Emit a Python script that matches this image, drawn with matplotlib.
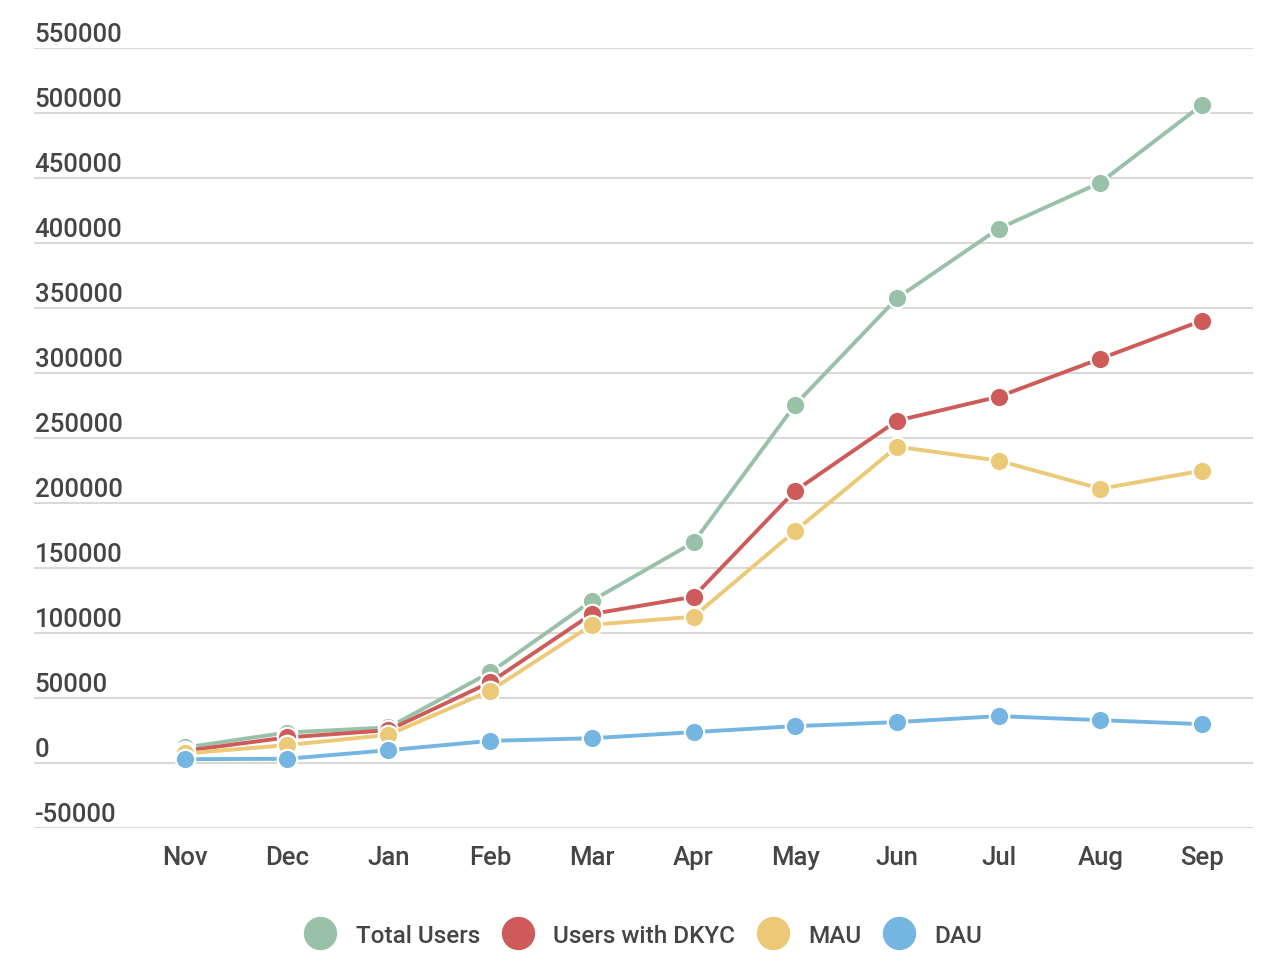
import matplotlib.pyplot as plt
from matplotlib import transforms

plt.rcParams['font.family'] = ['Roboto', 'DejaVu Sans']

months = ["Nov", "Dec", "Jan", "Feb", "Mar", "Apr", "May", "Jun", "Jul", "Aug", "Sep"]

total_users = [11900, 23400, 27300, 69600, 124700, 169600, 275500, 357300, 410800, 446200, 506000]
users_dkyc = [9300, 19600, 25200, 62000, 114500, 127800, 209300, 263100, 281600, 310800, 340100]
mau = [7300, 13700, 21600, 55500, 106200, 112400, 178500, 243100, 232400, 210800, 224700]
dau = [2900, 3200, 9800, 17000, 19000, 23700, 28300, 31400, 36000, 32900, 29800]

series = [
    ("Total Users", total_users, "#98c1a8"),
    ("Users with DKYC", users_dkyc, "#cd5b59"),
    ("MAU", mau, "#ebc976"),
    ("DAU", dau, "#75b5e1"),
]

yticks = list(range(-50000, 550001, 50000))
text_color = "#454545"
fs = 18.5

fig = plt.figure(figsize=(12.8, 9.7), dpi=100)
ax = fig.add_axes([34 / 1280, 141 / 970, 1219 / 1280, 780.5 / 970])

x = list(range(len(months)))
for name, vals, col in series:
    ax.plot(x, vals, color=col, lw=2.8, marker="o", ms=14,
            mfc=col, mec="white", mew=1.6, label=name, zorder=3)

ax.set_xlim(-1.485, 10.5)
ax.set_ylim(-50000, 550000)
ax.set_yticks(yticks)
ax.set_yticklabels([])
ax.grid(axis="y", color="#d9d9d9", lw=1.5)
ax.set_axisbelow(True)
ax.tick_params(axis="both", length=0)
ax.set_xticks(x)
ax.set_xticklabels(months, fontsize=fs, color=text_color, fontweight="medium")
ax.tick_params(axis="x", pad=12)
for s in ax.spines.values():
    s.set_visible(False)

trans = transforms.blended_transform_factory(ax.transAxes, ax.transData)
for v in yticks:
    ax.annotate(str(v), xy=(0.0005, v), xycoords=trans, xytext=(0, 1.2),
                textcoords="offset points", ha="left", va="bottom",
                fontsize=fs, color=text_color, fontweight="medium")

handles = [plt.Line2D([], [], ls="none", marker="o", ms=23, mfc=c, mec=c)
           for _, _, c in series]
fig.legend(handles, [n for n, _, _ in series], loc="center",
           bbox_to_anchor=(0.503, 0.035), ncol=4, frameon=False,
           prop={"size": 17.5, "weight": "medium"}, labelcolor=text_color,
           handletextpad=0.85, columnspacing=0.95, handlelength=1.2)

fig.savefig("out.png", dpi=100)
